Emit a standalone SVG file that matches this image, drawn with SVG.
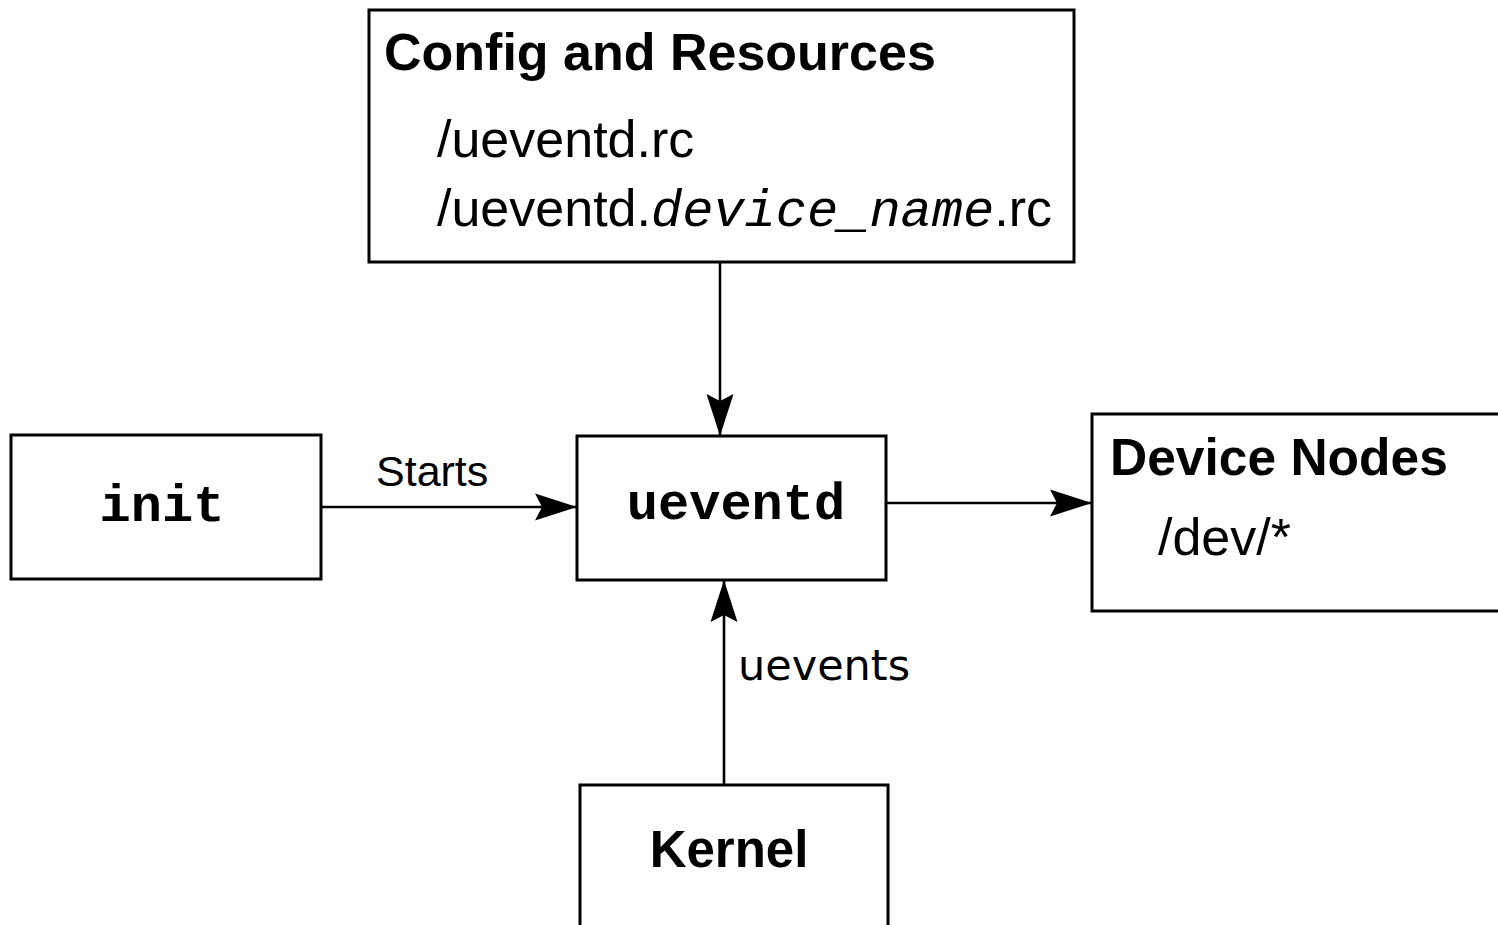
<svg xmlns="http://www.w3.org/2000/svg" width="1498" height="925" viewBox="0 0 1498 925">
<style>
.box{fill:#fff;stroke:#000;stroke-width:3}
.line{fill:none;stroke:#000;stroke-width:2.6}
.sans{font-family:"Liberation Sans",Arial,sans-serif;fill:#000}
.b{font-weight:bold}
.mono{font-family:"Liberation Mono","Courier New",monospace;fill:#000}
.dv{font-family:"DejaVu Sans",sans-serif;fill:#000}
</style>
<defs>
<marker id="ah" markerUnits="userSpaceOnUse" viewBox="-42 -15 44 30" markerWidth="44" markerHeight="30" refX="0" refY="0" orient="auto">
<path d="M0,0 L-42,-13.5 L-35,0 L-42,13.5 Z" fill="#000"/>
</marker>
</defs>
<rect width="1498" height="925" fill="#fff"/>
<g id="config">
<rect class="box" x="369" y="10" width="705" height="252"/>
<text class="sans b" x="384" y="70" font-size="52">Config and Resources</text>
<text class="sans" x="437" y="157" font-size="52">/ueventd.rc</text>
<text class="sans" x="437" y="226" font-size="52">/ueventd.<tspan class="mono" font-style="italic">device_name</tspan>.rc</text>
</g>
<g id="init">
<rect class="box" x="11" y="435" width="310" height="144"/>
<text class="mono b" x="162" y="521" font-size="52" text-anchor="middle">init</text>
</g>
<g id="uevent">
<rect class="box" x="577" y="436" width="309" height="144"/>
<text class="mono b" x="736" y="519" font-size="52" text-anchor="middle">ueventd</text>
</g>
<g id="devnodes">
<rect class="box" x="1092" y="414" width="420" height="197"/>
<text class="sans b" x="1110" y="475" font-size="51.5">Device Nodes</text>
<text class="sans" x="1158" y="555" font-size="52">/dev/*</text>
</g>
<g id="kernel">
<rect class="box" x="580" y="785" width="308" height="160"/>
<text class="sans b" x="729" y="867" font-size="51" text-anchor="middle">Kernel</text>
</g>
<g id="connectors">
<line class="line" x1="720" y1="262" x2="720" y2="436" marker-end="url(#ah)"/>
<line class="line" x1="321" y1="507" x2="577" y2="507" marker-end="url(#ah)"/>
<line class="line" x1="886" y1="503" x2="1092" y2="503" marker-end="url(#ah)"/>
<line class="line" x1="724" y1="785" x2="724" y2="580" marker-end="url(#ah)"/>
<text class="sans" x="376" y="486" font-size="43">Starts</text>
<text class="dv" x="738" y="680" font-size="43">uevents</text>
</g>
</svg>
